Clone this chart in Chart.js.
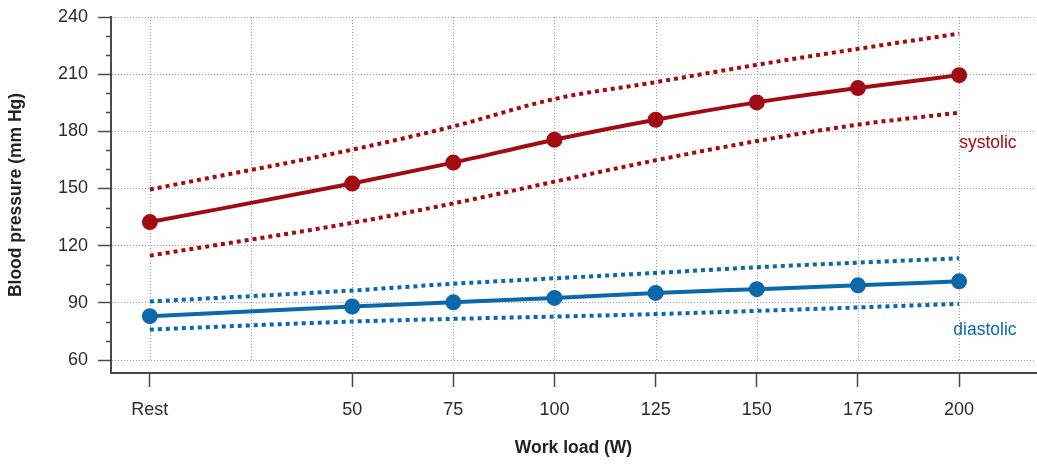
<!DOCTYPE html>
<html>
<head>
<meta charset="utf-8">
<script src="https://cdn.jsdelivr.net/npm/chart.js@4/dist/chart.umd.min.js"></script>
<style>
  html, body { margin: 0; padding: 0; background: #fff; }
  #wrap { width: 1037px; height: 464px; }
</style>
</head>
<body>
<div id="wrap"><canvas id="bpChart"></canvas></div>
<script>
// work load in W, "Rest" sits at 0
const loads = [0, 50, 75, 100, 125, 150, 175, 200];
const xTickLabels = { 0: 'Rest', 50: '50', 75: '75', 100: '100', 125: '125', 150: '150', 175: '175', 200: '200' };

// systolic: mean and the dotted band
const sysMean  = [132.4, 152.6, 163.6, 175.6, 186.1, 195.2, 202.7, 209.5];
const sysUpper = [149.5, 170.4, 182.6, 197.0, 205.8, 214.9, 223.3, 231.3];
const sysLower = [114.8, 132.0, 142.2, 153.6, 164.8, 174.9, 183.5, 189.8];

// diastolic
const diaMean  = [83.0, 88.1, 90.3, 92.6, 95.2, 97.2, 99.2, 101.3];
const diaUpper = [90.7, 96.5, 100.0, 102.9, 105.7, 108.7, 111.1, 113.4];
const diaLower = [76.0, 80.2, 81.6, 82.8, 84.1, 85.8, 87.6, 89.5];

const RED = '#a10c14';
const BLUE = '#0b68ab';
const AXIS = '#4a4a4a';
const GRID = '#9a9a9a';
const FONT = "'Liberation Sans', Arial, sans-serif";

const pts = arr => arr.map((v, i) => ({ x: loads[i], y: v }));

const meanLine = (label, data, color) => ({
    label, data: pts(data),
    borderColor: color, backgroundColor: color,
    borderWidth: 4, pointRadius: 6, pointHoverRadius: 6,
    cubicInterpolationMode: 'monotone'
});
const bandLine = (label, data, color) => ({
    label, data: pts(data),
    borderColor: color, borderWidth: 4, borderDash: [4, 4],
    borderCapStyle: 'butt', pointRadius: 0,
    cubicInterpolationMode: 'monotone'
});

// vertical grid only spans 60..240, plus short minor ticks on the y axis, plus series labels
const extras = {
    id: 'extras',
    beforeDatasetsDraw(chart) {
        const { ctx, scales: { x, y } } = chart;
        ctx.save();
        ctx.strokeStyle = GRID;
        ctx.lineWidth = 1;
        ctx.setLineDash([1, 2]);
        const top = y.getPixelForValue(240), bot = y.getPixelForValue(60);
        x.ticks.forEach(t => {
            const px = Math.round(x.getPixelForValue(t.value)) + 0.5;
            ctx.beginPath();
            ctx.moveTo(px, top);
            ctx.lineTo(px, bot);
            ctx.stroke();
        });
        ctx.restore();
    },
    afterDraw(chart) {
        const { ctx, scales: { x, y } } = chart;
        ctx.save();
        ctx.strokeStyle = AXIS;
        ctx.lineWidth = 1.5;
        y.ticks.forEach(t => {
            if (t.value % 30 === 0) return;
            const py = Math.round(y.getPixelForValue(t.value)) + 0.5;
            ctx.beginPath();
            ctx.moveTo(y.right - 5, py);
            ctx.lineTo(y.right, py);
            ctx.stroke();
        });
        ctx.font = '17.5px ' + FONT;
        ctx.textAlign = 'right';
        ctx.textBaseline = 'middle';
        ctx.fillStyle = RED;
        ctx.fillText('systolic', x.getPixelForValue(214.2), y.getPixelForValue(173.8));
        ctx.fillStyle = BLUE;
        ctx.fillText('diastolic', x.getPixelForValue(214.2), y.getPixelForValue(75.9));
        ctx.restore();
    }
};

new Chart(document.getElementById('bpChart'), {
    type: 'line',
    data: {
        datasets: [
            bandLine('Systolic upper', sysUpper, RED),
            bandLine('Systolic lower', sysLower, RED),
            meanLine('Systolic', sysMean, RED),
            bandLine('Diastolic upper', diaUpper, BLUE),
            bandLine('Diastolic lower', diaLower, BLUE),
            meanLine('Diastolic', diaMean, BLUE)
        ]
    },
    options: {
        responsive: true,
        maintainAspectRatio: false,
        animation: false,
        layout: { autoPadding: false, padding: { top: 17, right: 1, bottom: 0, left: 0 } },
        plugins: {
            legend: { display: false },
            tooltip: { enabled: false }
        },
        scales: {
            x: {
                type: 'linear',
                min: -9.6,
                max: 219,
                afterFit: s => { s.height = 91; s.paddingLeft = 0; s.paddingRight = 0; },
                ticks: {
                    stepSize: 25,
                    includeBounds: false,
                    autoSkip: false,
                    maxRotation: 0,
                    padding: 12,
                    color: '#2b2b2b',
                    font: { family: FONT, size: 18, lineHeight: 1.2 },
                    callback: v => xTickLabels[v] || ''
                },
                grid: {
                    drawOnChartArea: false,
                    tickLength: 14,
                    tickWidth: 1.5,
                    tickColor: c => (c.tick && xTickLabels[c.tick.value]) ? AXIS : 'rgba(0,0,0,0)'
                },
                border: { color: AXIS, width: 2 },
                title: {
                    display: true,
                    text: 'Work load (W)',
                    color: '#222',
                    font: { family: FONT, size: 17.5, weight: 'bold', lineHeight: 1.2 },
                    padding: { top: 0, bottom: 5 }
                }
            },
            y: {
                min: 53.2,
                max: 240,
                afterFit: s => { s.width = 111; s.paddingTop = 0; s.paddingBottom = 0; },
                ticks: {
                    stepSize: 10,
                    includeBounds: false,
                    autoSkip: false,
                    padding: 10,
                    color: '#2b2b2b',
                    font: { family: FONT, size: 18, lineHeight: 1.2 },
                    callback: v => (v % 30 === 0 ? String(v) : '')
                },
                grid: {
                    color: c => (c.tick && c.tick.value % 30 === 0) ? GRID : 'rgba(0,0,0,0)',
                    lineWidth: 1,
                    tickLength: 13,
                    tickWidth: 1.5,
                    tickBorderDash: [],
                    tickColor: c => (c.tick && c.tick.value % 30 === 0) ? AXIS : 'rgba(0,0,0,0)'
                },
                border: { color: AXIS, width: 2, dash: [1, 2] },
                title: {
                    display: true,
                    text: 'Blood pressure (mm Hg)',
                    color: '#222',
                    font: { family: FONT, size: 17.5, weight: 'bold', lineHeight: 1.2 },
                    padding: { top: 6, bottom: 0 }
                }
            }
        }
    },
    plugins: [extras]
});
</script>
</body>
</html>
